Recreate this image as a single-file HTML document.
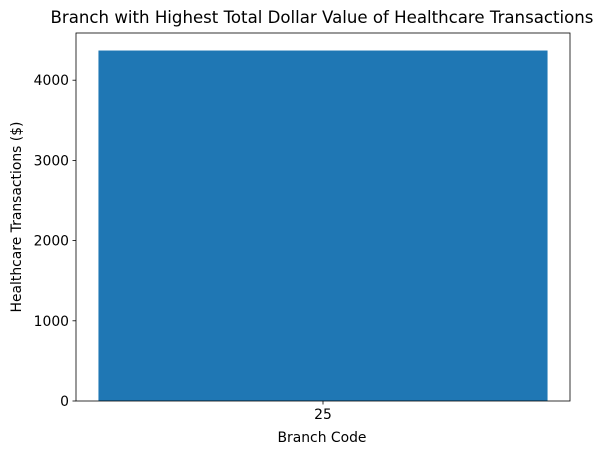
<!DOCTYPE html>
<html><head><meta charset="utf-8"><style>
body{margin:0;background:#fff;}
text{font-family:"DejaVu Sans","Liberation Sans",sans-serif;fill:#000;}
</style></head><body>
<svg id="chart" width="604" height="455" xmlns="http://www.w3.org/2000/svg">
<text x="322" y="23" font-size="16.6" text-anchor="middle">Branch with Highest Total Dollar Value of Healthcare Transactions</text>
<g id="plot"></g>
<text x="322" y="442" font-size="13.9" text-anchor="middle">Branch Code</text>
<text transform="translate(21,217) rotate(-90)" font-size="13.9" text-anchor="middle">Healthcare Transactions ($)</text>
</svg>
<script>
const categories=["25"];
const values=[4370];
const yTicks=[0,1000,2000,3000,4000];
const L=76,R=570,T=33,B=401;
const ymax=Math.max(...values)*1.05;
const y=v=>B-(v/ymax)*(B-T);
const n=categories.length;
const xmin=-0.44,xmax=n-1+0.44;
const x=v=>L+(v-xmin)/(xmax-xmin)*(R-L);
const g=document.getElementById('plot');
const NS="http://www.w3.org/2000/svg";
function mk(t,a){const e=document.createElementNS(NS,t);for(const k in a)e.setAttribute(k,a[k]);g.appendChild(e);return e;}
values.forEach((v,i)=>{
 const r=mk('rect',{x:x(i-0.4),y:y(v),width:x(i+0.4)-x(i-0.4),height:B-y(v),fill:'#1f77b4'});
 
 
 const tk=mk('line',{x1:x(i),x2:x(i),y1:B,y2:B+3.5,stroke:'#000','stroke-width':0.8});
 
 
 const tl=mk('text',{x:x(i),y:B+18,'font-size':13.9,'text-anchor':'middle'});
 tl.textContent=categories[i];
 
 
});
yTicks.forEach(t=>{
 const tk=mk('line',{x1:L-3.5,x2:L,y1:y(t),y2:y(t),stroke:'#000','stroke-width':0.8});
 
 
 const tl=mk('text',{x:L-7,y:y(t)+5,'font-size':13.9,'text-anchor':'end'});
 tl.textContent=t;
 
 
});
const f=mk('rect',{x:L,y:T,width:R-L,height:B-T,fill:'none',stroke:'#000','stroke-width':0.8});


</script>
</body></html>
